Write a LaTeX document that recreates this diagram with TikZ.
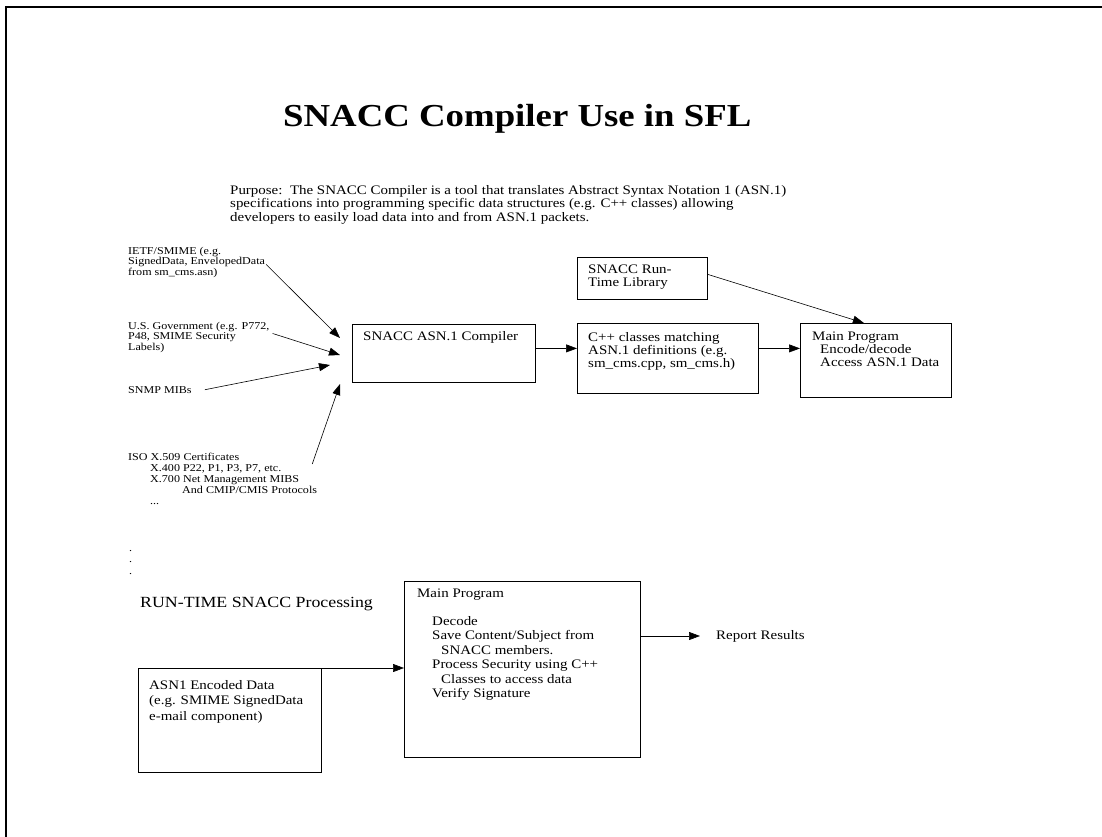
\documentclass[tikz,border=0pt]{standalone}
\usepackage{fontspec}
\setmainfont{Liberation Serif}[FakeStretch=1.15]
\usetikzlibrary{arrows.meta}

\begin{document}
\begin{tikzpicture}[
    x=1pt, y=-1pt,
    boite/.style={
      draw,
      line width=0.8pt,
      anchor=north west,
      inner sep=0pt
    },
    texte/.style={
      anchor=north west,
      inner sep=0pt,
      align=left,
      font=\fontsize{13}{13}\selectfont
    },
    petit/.style={
      texte,
      font=\fontsize{10.5}{10.5}\selectfont
    },
    fleche/.style={
      -{Triangle[length=11pt,width=8pt]},
      line width=0.6pt
    }
  ]
  \useasboundingbox (0,0) rectangle (1102,837);
  \draw[line width=2pt] (6,837) -- (6,7) -- (1102,7);

  \node[anchor=base west, inner sep=0pt, font=\bfseries\fontsize{32}{36}\selectfont] (titre) at (283,127) {SNACC Compiler Use in SFL};
  \node[texte, font=\fontsize{13}{13.5}\selectfont] (but) at (230,185) {Purpose:\ \ The SNACC Compiler is a tool that translates Abstract Syntax Notation 1 (ASN.1)\\specifications into programming specific data structures (e.g. C++ classes) allowing\\developers to easily load data into and from ASN.1 packets.};

  \node[petit] (ietf) at (128,247) {IETF/SMIME (e.g.\\SignedData, EnvelopedData\\from sm\_cms.asn)};
  \node[petit] (usg) at (128,322) {U.S. Government (e.g. P772,\\P48, SMIME Security\\Labels)};
  \node[petit] (snmp) at (128,386) {SNMP MIBs};
  \node[petit, font=\fontsize{10.5}{11}\selectfont] (iso) at (128,453) {ISO X.509 Certificates\\\hspace*{22pt}X.400 P22, P1, P3, P7, etc.\\\hspace*{22pt}X.700 Net Management MIBS\\\hspace*{54pt}And CMIP/CMIS Protocols\\\hspace*{22pt}...};
  \node[petit, font=\fontsize{10.5}{11.5}\selectfont] (points) at (129,550) {.\\.\\.};

  \coordinate (pa) at (340,338);
  \coordinate (pb) at (340,355);
  \coordinate (pc) at (330,365);
  \coordinate (pd) at (340,384);
  \draw[fleche] ([shift={(1pt,-2pt)}]ietf.east) -- (pa);
  \draw[fleche] ([shift={(3pt,4pt)}]usg.east) -- (pb);
  \draw[fleche] ([xshift=13pt]snmp.east) -- (pc);
  \draw[fleche] ([shift={(-5pt,-11pt)}]iso.north east) -- (pd);

  \node[boite, minimum width=130, minimum height=42] (lib) at (577,257) {};
  \node[texte, font=\fontsize{13}{12.5}\selectfont] (tlib) at (588,265) {SNACC Run-\\Time Library};
  \node[boite, minimum width=183, minimum height=58] (comp) at (352,324) {};
  \node[texte] (tcomp) at (363,331) {SNACC ASN.1 Compiler};
  \node[boite, minimum width=181, minimum height=70] (cpp) at (577,323) {};
  \node[texte] (tcpp) at (588,332) {C++ classes matching\\ASN.1 definitions (e.g.\\sm\_cms.cpp, sm\_cms.h)};
  \node[boite, minimum width=151, minimum height=74] (mainh) at (800,323) {};
  \node[texte] (tmainh) at (812,332) {Main Program\\\hspace*{8pt}Encode/decode\\\hspace*{8pt}Access ASN.1 Data};

  \coordinate (c1) at ([yshift=5pt]comp.east);
  \coordinate (c2) at ([yshift=10pt]cpp.east);
  \draw[fleche] (c1) -- (c1 -| cpp.west);
  \draw[fleche] (c2) -- (c2 -| mainh.west);
  \draw[fleche] ([yshift=4pt]lib.east) -- ([xshift=-12pt]mainh.north);

  \node[texte, font=\fontsize{15.5}{15.5}\selectfont] (titrebas) at (140,597) {RUN-TIME SNACC Processing};
  \node[boite, minimum width=183, minimum height=104] (asn) at (138,668) {};
  \node[texte, font=\fontsize{13}{15.5}\selectfont] (tasn) at (149,680) {ASN1 Encoded Data\\(e.g. SMIME SignedData\\e-mail component)};
  \node[boite, minimum width=236, minimum height=176] (mainb) at (404,581) {};
  \node[texte] (tmainb) at (417,589) {Main Program};
  \node[texte, font=\fontsize{13}{14.5}\selectfont] (etapes) at (432,616) {Decode\\Save Content/Subject from\\\hspace*{9pt}SNACC members.\\Process Security using C++\\\hspace*{9pt}Classes to access data\\Verify Signature};
  \node[texte, anchor=west] (rapport) at (716,636) {Report Results};

  \draw[fleche] (asn.north east) -- (asn.north east -| mainb.west);
  \draw[fleche] (mainb.east |- rapport.west) -- ([xshift=-16pt]rapport.west);
\end{tikzpicture}
\end{document}
